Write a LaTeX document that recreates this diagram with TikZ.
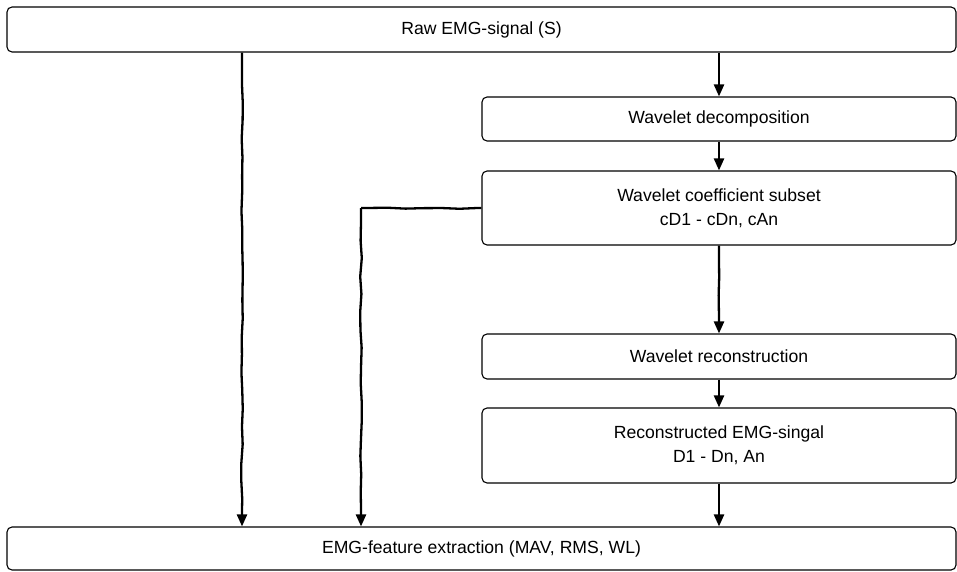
\documentclass[tikz,border=0pt]{standalone}
\usepackage{fontspec}
\setmainfont{Liberation Sans}
\usetikzlibrary{arrows.meta,decorations.pathmorphing}
\begin{document}
\begin{tikzpicture}[x=1pt,y=-1pt,
  box/.style={draw,line width=1.1pt,rounded corners=5pt,inner sep=0pt,
    align=center,font=\fontsize{17.6}{24}\selectfont},
  flow/.style={line width=2.3pt,-{Triangle[width=10pt,length=12pt]},
    decorate,decoration={random steps,segment length=18pt,amplitude=0.8pt,
      pre length=14pt,post length=16pt}},
  link/.style={line width=2.3pt,decorate,decoration={random steps,
      segment length=18pt,amplitude=0.8pt,pre length=4pt,post length=4pt}}]
\pgfmathsetseed{7}
\useasboundingbox (0,0) rectangle (957,572);
% processing boxes
\node[box,minimum width=949pt,minimum height=45pt] (raw) at (481.5,29.5) {Raw EMG-signal (S)};
\node[box,minimum width=474pt,minimum height=44pt] (dec) at (719,119) {Wavelet decomposition};
\node[box,minimum width=474pt,minimum height=74pt] (coef) at (719,208) {Wavelet coefficient subset\\cD1 - cDn, cAn};
\node[box,minimum width=474pt,minimum height=45pt] (rec) at (719,356.5) {Wavelet reconstruction};
\node[box,minimum width=474pt,minimum height=75pt] (sig) at (719,445.5) {Reconstructed EMG-singal\\D1 - Dn, An};
\node[box,minimum width=949pt,minimum height=43pt] (feat) at (481.5,548.5) {EMG-feature extraction (MAV, RMS, WL)};
% guide points for the side branches
\coordinate (xraw) at (242,0);
\coordinate (corner) at (361,208);
% main chain
\draw[flow] (raw.south -| dec.north) -- (dec.north);
\draw[flow] (dec.south) -- (coef.north);
\draw[flow] (coef.south) -- (rec.north);
\draw[flow] (rec.south) -- (sig.north);
\draw[flow] (sig.south) -- (feat.north -| sig.south);
% direct path from the raw signal
\draw[flow] (raw.south -| xraw) -- (feat.north -| xraw);
% coefficient branch
\draw[link] (coef.west) -- (corner);
\draw[flow] (corner) -- (feat.north -| corner);
\end{tikzpicture}
\end{document}
